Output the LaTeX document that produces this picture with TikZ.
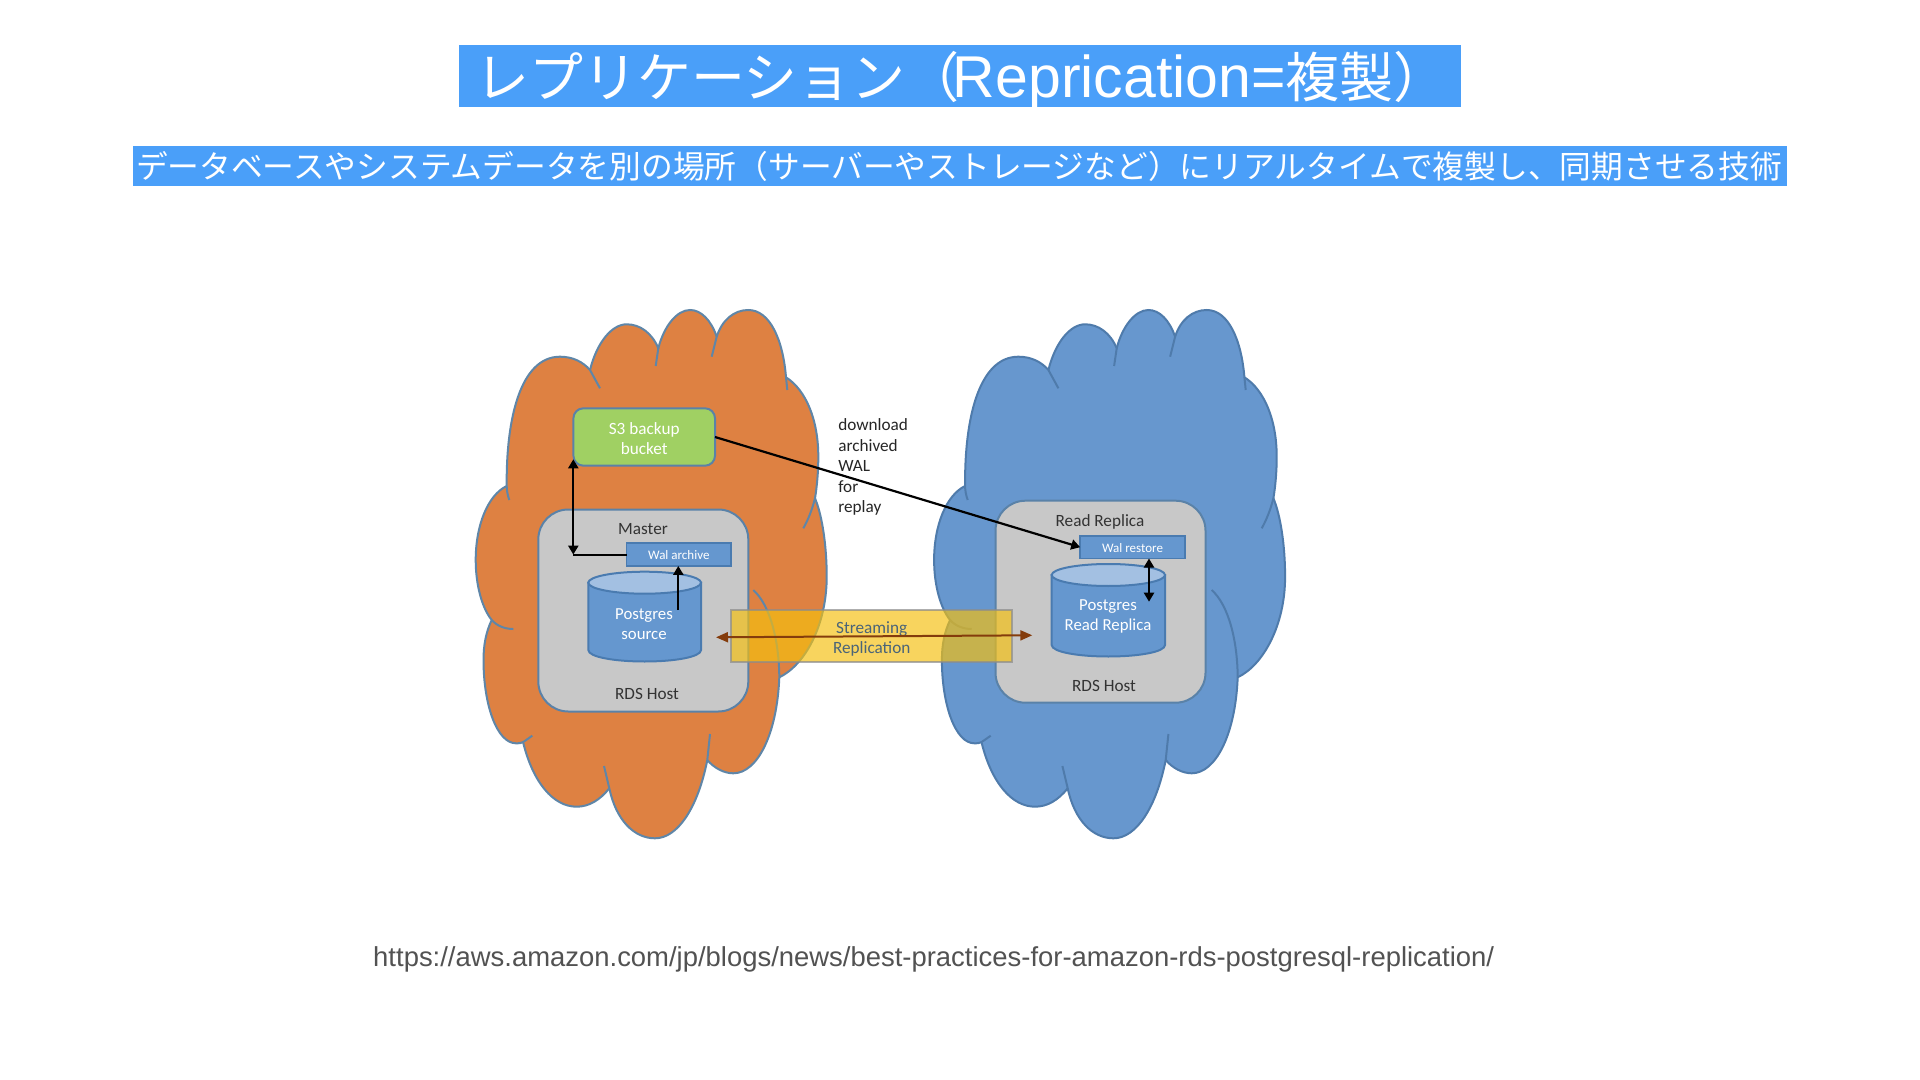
\documentclass[tikz,border=0pt]{standalone}
\usepackage{fontspec}
\usetikzlibrary{arrows.meta}
\setmainfont{Carlito}
\newfontfamily\jpfont{Noto Sans CJK JP}
\newfontfamily\lsfont{Liberation Sans}
\definecolor{banner}{HTML}{4A9FF9}
\definecolor{orangecloud}{HTML}{DE8142}
\definecolor{orangeline}{HTML}{5F86A8}
\definecolor{bluecloud}{HTML}{6797CE}
\definecolor{blueline}{HTML}{4F7BAB}
\definecolor{hostgray}{HTML}{C8C8C8}
\definecolor{hostline}{HTML}{5A82A8}
\definecolor{dbblue}{HTML}{6597CF}
\definecolor{dbtop}{HTML}{A3C0E2}
\definecolor{dbline}{HTML}{4A7BB0}
\definecolor{bucketgreen}{HTML}{A0D063}
\definecolor{brownarrow}{HTML}{843C0C}
\definecolor{overlay}{HTML}{F5C00F}
\definecolor{overlayline}{HTML}{8C8C8C}
\definecolor{streamtext}{HTML}{4A6478}
\tikzset{
  every node/.style={inner sep=0pt,outer sep=0pt},
  hostbox/.style={draw=hostline,line width=1pt,fill=hostgray,rounded corners=15pt,minimum width=105pt,minimum height=101pt},
  walbox/.style={draw=dbline,line width=.9pt,fill=dbblue,minimum width=52.3pt,minimum height=11.3pt,text=white,font=\fontsize{6.5}{8}\selectfont},
  bucketbox/.style={draw=hostline,line width=1pt,fill=bucketgreen,rounded corners=5pt,minimum width=70.8pt,minimum height=28.7pt,text=white,align=center,font=\fontsize{8.6}{10.25}\selectfont},
  lbl/.style={text=black!80,font=\fontsize{8.6}{10.25}\selectfont,align=center},
  dblbl/.style={text=white,font=\fontsize{8.4}{10}\selectfont,align=center},
  blk/.style={line width=1.1pt,black,{Triangle[width=5pt,length=4.5pt]}-{Triangle[width=5pt,length=4.5pt]}},
  blkone/.style={line width=1.1pt,black,-{Triangle[width=5pt,length=4.5pt]}},
  banbox/.style={fill=banner},
}
\newcommand{\cloudshape}[2]{%
 \begin{scope}[xshift=#1pt]
 \path[fill=#2] (506.7,486)
  .. controls (506,420) and (520,356.7) .. (560,356.7) .. controls (573,356.7) and (583,362) .. (590,370)
  .. controls (597,342) and (612,324.3) .. (626.7,324.3) .. controls (640,324.3) and (652,333) .. (658.3,348.3)
  .. controls (664,326) and (677,310) .. (690,310) .. controls (701,310) and (711,320) .. (716.7,336.7)
  .. controls (722,320) and (734,310) .. (748.3,310) .. controls (770,310) and (783,340) .. (786,377.3)
  .. controls (806,390) and (818.3,420) .. (818.3,456.7) .. controls (818.3,472) and (817,486) .. (815,498.3)
  .. controls (822,515) and (826.7,545) .. (826.7,576.7) .. controls (826.7,625) and (805,665) .. (779.3,677.3)
  .. controls (777,735) and (757,773.3) .. (733.3,773.3) .. controls (724,773.3) and (714,768) .. (707.3,760)
  .. controls (698,807) and (678,838.3) .. (655,838.3) .. controls (634,838.3) and (616,820) .. (609.3,788.3)
  .. controls (600,800) and (589,806.7) .. (576.7,806.7) .. controls (553,806.7) and (533,782) .. (523.3,743)
  .. controls (521,743) and (520,743.3) .. (516,743.3) .. controls (497,743.3) and (483.5,705) .. (483.5,660)
  .. controls (483.5,645) and (486,632) .. (491.7,620)
  .. controls (482,608) and (475.7,585) .. (475.7,560) .. controls (475.7,525) and (488,495) .. (506.7,486) -- cycle;
 \end{scope}}
\newcommand{\cloudlines}[2]{%
 \begin{scope}[xshift=#1pt,draw=#2,line width=1pt]
 \draw (509.3,500) .. controls (507.5,495) and (506.7,490) .. (506.7,486)
  .. controls (506,420) and (520,356.7) .. (560,356.7) .. controls (573,356.7) and (583,362) .. (590,370) -- (600,388.3);
 \draw (590,370) .. controls (597,342) and (612,324.3) .. (626.7,324.3) .. controls (640,324.3) and (652,333) .. (658.3,348.3) -- (655.7,366);
 \draw (658.3,348.3) .. controls (664,326) and (677,310) .. (690,310) .. controls (701,310) and (711,320) .. (716.7,336.7);
 \draw (711.7,356.7) -- (716.7,336.7) .. controls (722,320) and (734,310) .. (748.3,310) .. controls (770,310) and (783,340) .. (786,377.3) -- (787.3,390);
 \draw (786,377.3) .. controls (806,390) and (818.3,420) .. (818.3,456.7) .. controls (818.3,472) and (817,486) .. (815,498.3) .. controls (812,510) and (808,520) .. (803.3,528.3);
 \draw (815,498.3) .. controls (822,515) and (826.7,545) .. (826.7,576.7) .. controls (826.7,625) and (805,665) .. (779.3,677.3);
 \draw (753.3,590) .. controls (770,605) and (779,640) .. (779.3,677.3)
  .. controls (777,735) and (757,773.3) .. (733.3,773.3) .. controls (724,773.3) and (714,768) .. (707.3,760);
 \draw (710,734) -- (707.3,760) .. controls (698,807) and (678,838.3) .. (655,838.3) .. controls (634,838.3) and (616,820) .. (609.3,788.3) -- (604,766);
 \draw (609.3,788.3) .. controls (600,800) and (589,806.7) .. (576.7,806.7) .. controls (553,806.7) and (533,782) .. (523.3,743);
 \draw (532.3,735.7) -- (523.3,742) .. controls (521,743) and (520,743.3) .. (516,743.3) .. controls (497,743.3) and (483.5,705) .. (483.5,660)
  .. controls (483.5,645) and (486,632) .. (491.7,620);
 \draw (513.3,629) .. controls (505,629) and (497,626) .. (491.7,620)
  .. controls (482,608) and (475.7,585) .. (475.7,560) .. controls (475.7,525) and (488,495) .. (506.7,486);
 \end{scope}}
\newcommand{\dbshape}[4]{% left, right, top of ellipse, side end
 \pgfmathsetmacro{\midx}{(#1+#2)/2}
 \path[fill=dbblue,draw=dbline,line width=1pt] (#1,#3+11) -- (#1,#4)
   .. controls (#1,#4+7) and (\midx-30,#4+11.5) .. (\midx,#4+11.5)
   .. controls (\midx+30,#4+11.5) and (#2,#4+7) .. (#2,#4) -- (#2,#3+11) -- cycle;
 \path[fill=dbtop,draw=dbline,line width=1pt] (\midx,#3+11) ellipse [x radius=(#2-#1)/2*1,y radius=11];
}
\begin{document}
\begin{tikzpicture}[x=.5pt,y=-.5pt]
\useasboundingbox (0,0) rectangle (1920,1080);
\fill[white] (0,0) rectangle (1920,1080);

% banners
\node[banbox,minimum width=501pt,minimum height=31pt] (titlebox) at (960,76) {};
\node[anchor=base west,text=white] (titletext) at (475,97.5) {\jpfont\fontsize{27}{32}\selectfont レプリケーション（\kern-3.5pt{\lsfont\fontsize{29.5}{32}\selectfont Reprication=}複製）};
\node[banbox,minimum width=827.2pt,minimum height=20pt] (subbox) at (959.8,166) {};
\node[anchor=base west,text=white] (subtext) at (136,178.5) {\jpfont\fontsize{15.87}{20}\selectfont データベースやシステムデータを別の場所（サーバーやストレージなど）にリアルタイムで複製し、同期させる技術};

% clouds
\cloudshape{0}{orangecloud}
\cloudlines{0}{orangeline}
\cloudshape{229.2}{bluecloud}
\cloudlines{229.2}{blueline}

% left side
\node[bucketbox] (s3) at (644.2,437) {\rule{0pt}{7.5pt}S3 backup\\bucket};
\node[hostbox] (master) at (643.3,610.5) {};
\node[lbl] (mastert) at (643,529) {Master};
\node[lbl] (rdsa) at (647,694) {RDS Host};
\dbshape{588.3}{701}{571.7}{650}
\node[dblbl] (pga) at (644,624) {Postgres\\source};
\node[walbox] (wala) at (678.8,554.6) {Wal archive};

% right side
\node[hostbox] (replica) at (1100.5,601.7) {};
\node[lbl] (replicat) at (1100,522) {Read Replica};
\node[lbl] (rdsb) at (1104,686) {RDS Host};
\dbshape{1051.7}{1165}{564}{645}
\node[dblbl] (pgb) at (1108,616.5) {Postgres\\Read Replica};
\node[walbox] (walb) at (1132.5,547.2) {\rule{0pt}{5.8pt}Wal restore};

% download text
\node[anchor=north west,text=black!85,align=left,font=\fontsize{8.6}{10.25}\selectfont] (dl) at (838.3,419) {download\\archived\\WAL\\for\\replay};

% streaming overlay
\node[draw=overlayline,draw opacity=.7,fill=overlay,fill opacity=.67,line width=1pt,minimum width=140.5pt,minimum height=25.8pt] (stream) at (871.5,635.8) {};
\node[text=streamtext,font=\fontsize{8.6}{10.25}\selectfont,align=center] (streamt) at (871.7,639) {Streaming\\Replication};

% connectors
\coordinate (s3tip) at (573.3,459.3);
\coordinate (elbow) at (s3tip |- wala.west);
\coordinate (pgain) at (678.3,610);
\coordinate (pgbin) at (1149,601.7);
\coordinate (replw) at (716,637.3);
\coordinate (reple) at (1032.3,635.3);
\draw[blk] (s3tip) -- (elbow);
\draw[line width=1.1pt] (wala.west) -- (elbow);
\draw[blkone] (pgain) -- (pgain |- wala.south);
\draw[blk] (pgbin |- walb.south) -- (pgbin);
\draw[blkone] (s3.east) -- (walb.west);
\draw[line width=1pt,brownarrow,{Triangle[width=5pt,length=6pt]}-{Triangle[width=5pt,length=6pt]}] (replw) -- (reple);

% url
\node[anchor=base,text=black!68] (url) at (933.7,966) {\lsfont\fontsize{13.72}{16}\selectfont https://aws.amazon.com/jp/blogs/news/best-practices-for-amazon-rds-postgresql-replication/};
\end{tikzpicture}
\end{document}
